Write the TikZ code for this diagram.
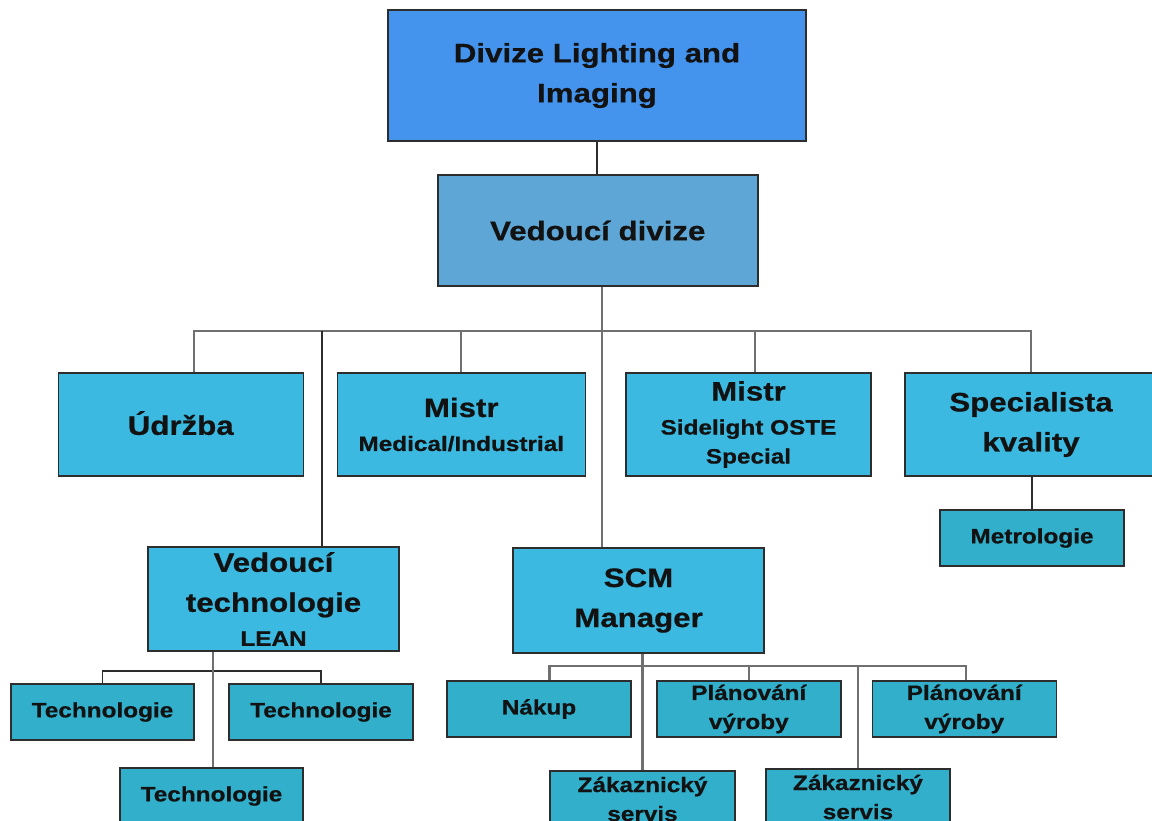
\documentclass[tikz,border=0pt]{standalone}
\usepackage{fontspec}
\newfontfamily\orgfont[FakeStretch=1.17,BoldFeatures={FakeBold=0.7}]{Liberation Sans}
\newcommand{\bigtxt}{\fontsize{26.7}{40}\selectfont}
\newcommand{\smalltxt}{\fontsize{20.8}{29}\selectfont}
\definecolor{topblue}{RGB}{68,148,238}
\definecolor{headblue}{RGB}{94,166,214}
\definecolor{unitblue}{RGB}{59,185,224}
\definecolor{teamblue}{RGB}{49,175,203}
\definecolor{boxline}{RGB}{45,45,45}
\definecolor{linkgray}{RGB}{112,112,112}

\begin{document}
\begin{tikzpicture}[x=1pt,y=-1pt,
        box/.style={draw=boxline,line width=1.5pt,align=center,inner sep=0pt,text=black!93,font=\orgfont\bfseries\bigtxt},
        unit/.style={box,fill=unitblue,minimum width=247pt,minimum height=103pt},
        team/.style={box,fill=teamblue,minimum width=184pt,minimum height=56pt,font=\orgfont\bfseries\smalltxt},
        link/.style={draw=linkgray,line width=2.2pt},
        thinlink/.style={draw=boxline,line width=1.5pt}]
        \useasboundingbox (0,0) rectangle (1152,820);
        \fill[white] (0,0) rectangle (1152,820);

        \node[box,fill=topblue,minimum width=418pt,minimum height=131pt] (lighting) at (597,75.5) {Divize Lighting and\\Imaging};
        \node[box,fill=headblue,minimum width=320pt,minimum height=111pt] (head) at (597.75,230.5) {\raisebox{-3pt}{Vedoucí divize}};

        \node[unit,minimum width=245pt] (udrzba) at (180.75,424.5) {\raisebox{3pt}{Údržba}};
        \node[unit,minimum width=248pt] (mistrmed) at (461.25,424.5) {Mistr\\[-6pt]{\smalltxt Medical/Industrial}};
        \node[unit,minimum width=245pt] (mistrside) at (748.5,424.5) {Mistr\\[-6pt]{\smalltxt Sidelight OSTE}\\[-11pt]{\smalltxt Special}};
        \node[unit,minimum width=252pt] (kvalita) at (1031,424.5) {Specialista\\kvality};
        \node[team] (metrologie) at (1032,538) {Metrologie};

        \node[unit,minimum width=251pt,minimum height=104pt] (vedtech) at (273.5,599) {Vedoucí\\technologie\\[-6pt]{\smalltxt LEAN}};
        \node[unit,minimum width=251pt,minimum height=105pt] (scm) at (638.5,600.5) {SCM\\Manager};

        \node[team,minimum width=183pt] (tech1) at (102.5,712) {Technologie};
        \node[team] (tech2) at (321,712) {Technologie};
        \node[team,minimum width=183pt] (tech3) at (211.5,796) {Technologie};

        \node[team] (nakup) at (539,709) {Nákup};
        \node[team] (plan1) at (748.75,709) {Plánování\\výroby};
        \node[team] (plan2) at (964.25,709) {Plánování\\výroby};
        \node[team,minimum width=185pt] (zak1) at (642.5,799) {Zákaznický\\servis};
        \node[team] (zak2) at (858,797) {Zákaznický\\servis};

        % vedeni
        \coordinate (bus) at (0,331);
        \draw[thinlink] (lighting.south) -- (lighting.south |- head.north);
        \draw[link] ([xshift=4pt]head.south) -- ([xshift=4pt]head.south |- scm.north);
        \draw[link] ([xshift=13pt]udrzba.north) |- (bus -| kvalita.north) -- (kvalita.north);
        \draw[link] (mistrmed.north) -- (mistrmed.north |- bus);
        \draw[link] ([xshift=6.5pt]mistrside.north) -- ([xshift=6.5pt]mistrside.north |- bus);
        \draw[thinlink] ([xshift=48.5pt]vedtech.north) -- ([xshift=48.5pt]vedtech.north |- bus);
        \draw[thinlink] (metrologie.north |- kvalita.south) -- (metrologie.north);

        % technologie
        \coordinate (techbus) at (0,671);
        \draw[thinlink] (tech1.north) |- (techbus -| tech2.north) -- (tech2.north);
        \draw[link] ([xshift=1.5pt]tech3.north |- vedtech.south) -- ([xshift=1.5pt]tech3.north);

        % SCM
        \coordinate (scmbus) at (0,666);
        \draw[link] ([xshift=10.5pt]nakup.north) |- ([xshift=1.5pt]scmbus -| plan2.north) -- ([xshift=1.5pt]plan2.north);
        \draw[link] (plan1.north) -- (plan1.north |- scmbus);
        \draw[link] (zak1.north |- scm.south) -- (zak1.north);
        \draw[link] (zak2.north) -- (zak2.north |- scmbus);
    \end{tikzpicture}
\end{document}
